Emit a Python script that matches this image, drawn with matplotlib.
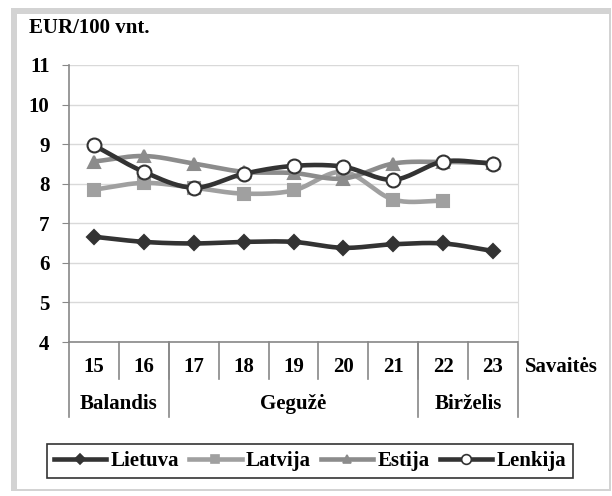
import numpy as np
import matplotlib
matplotlib.use("Agg")
import matplotlib.pyplot as plt
from matplotlib.lines import Line2D
from matplotlib.patches import Rectangle
import matplotlib.transforms as mtransforms

weeks = ["15", "16", "17", "18", "19", "20", "21", "22", "23"]
months = ["Balandis", "Gegužė", "Birželis"]
month_spans = [(0, 2), (2, 7), (7, 9)]

lietuva = [6.66, 6.53, 6.49, 6.53, 6.53, 6.38, 6.47, 6.49, 6.30]
latvija = [7.85, 8.02, 7.90, 7.75, 7.83, 8.30, 7.60, 7.57, np.nan]
estija = [8.56, 8.70, 8.51, 8.30, 8.27, 8.13, 8.51, 8.55, 8.52]
lenkija = [8.97, 8.30, 7.90, 8.25, 8.45, 8.43, 8.10, 8.56, 8.51]

plt.rcParams['font.family'] = ['Liberation Serif', 'DejaVu Serif']
plt.rcParams['font.weight'] = 'bold'

W, H = 612, 496
fig = plt.figure(figsize=(W / 100, H / 100), dpi=100)

# outer frame (thick grey left/top, thin right/bottom)
fig.patches.append(Rectangle((11 / W, 1 - 491 / H), 600 / W, 483 / H,
                             transform=fig.transFigure, facecolor='#d3d3d3',
                             edgecolor='none', zorder=-10))
fig.patches.append(Rectangle((17 / W, 1 - 489 / H), 592 / W, 475 / H,
                             transform=fig.transFigure, facecolor='white',
                             edgecolor='none', zorder=-9))

ax = fig.add_axes([69 / W, 1 - 342 / H, (518 - 69) / W, (342 - 65) / H])
ax.set_xlim(0, 9)
ax.set_ylim(4, 11)
ax.set_yticks(range(4, 12))
ax.set_xticks([])
ax.grid(axis='y', color='#d9d9d9', linewidth=1)
ax.set_axisbelow(True)
ax.spines['top'].set_visible(False)
ax.spines['right'].set_color('#dcdcdc')
ax.spines['left'].set_color('#888888')
ax.spines['bottom'].set_color('#888888')
ax.spines['left'].set_linewidth(1.2)
ax.spines['bottom'].set_linewidth(1.2)
ax.tick_params(axis='y', length=5, color='#888888', labelsize=15, pad=9)
for t in ax.get_yticklabels():
    t.set_fontweight('bold')


def smooth(xs, ys, n=20):
    # Catmull-Rom style smoothing, like Excel smoothed lines
    xs = np.asarray(xs, float)
    ys = np.asarray(ys, float)
    m = ~np.isnan(ys)
    xs, ys = xs[m], ys[m]
    px = np.concatenate([[2 * xs[0] - xs[1]], xs, [2 * xs[-1] - xs[-2]]])
    py = np.concatenate([[2 * ys[0] - ys[1]], ys, [2 * ys[-1] - ys[-2]]])
    ox, oy = [], []
    t = np.linspace(0, 1, n)
    for i in range(1, len(px) - 2):
        p0, p1, p2, p3 = [np.array([px[j], py[j]]) for j in range(i - 1, i + 3)]
        c1 = p1 + (p2 - p0) / 6
        c2 = p2 - (p3 - p1) / 6
        b = ((1 - t) ** 3)[:, None] * p1 + (3 * (1 - t) ** 2 * t)[:, None] * c1 \
            + (3 * (1 - t) * t ** 2)[:, None] * c2 + (t ** 3)[:, None] * p2
        ox.extend(b[:, 0])
        oy.extend(b[:, 1])
    return ox, oy


x = np.arange(9) + 0.5
series = [
    ("Lietuva", lietuva, '#333333', 'D', '#333333', '#333333', 7),
    ("Latvija", latvija, '#a0a0a0', 's', '#a0a0a0', '#a0a0a0', 8),
    ("Estija", estija, '#8c8c8c', '^', '#8c8c8c', '#8c8c8c', 9),
    ("Lenkija", lenkija, '#333333', 'o', 'white', '#333333', 10),
]
handles = []
for i, (name, vals, col, mk, mfc, mec, ms) in enumerate(series):
    sx, sy = smooth(x, vals)
    ax.plot(sx, sy, color=col, linewidth=3.3, zorder=3 + i, solid_capstyle='round')
    ax.plot(x, vals, linestyle='none', marker=mk, markersize=ms,
            markerfacecolor=mfc, markeredgecolor=mec, markeredgewidth=1.5,
            zorder=3 + i, clip_on=False)
    handles.append(Line2D([], [], color=col, linewidth=3.3, marker=mk,
                          markersize=ms * 0.7, markerfacecolor=mfc,
                          markeredgecolor=mec, markeredgewidth=1.2))

# category axis (weeks + months)
trans = mtransforms.blended_transform_factory(ax.transData, ax.transAxes)
px_y = 1 / (342 - 65)
week_sep = -(379 - 342) * px_y
month_sep = -(417 - 342) * px_y
for i, w in enumerate(weeks):
    ax.text(i + 0.5, -(367 - 342) * px_y, w, transform=trans, ha='center',
            va='center', fontsize=15, fontweight='bold')
for b in range(1, 9):
    ax.add_line(Line2D([b, b], [0, week_sep], transform=trans, color='#888888',
                       linewidth=1.2, clip_on=False))
for (a, b), name in zip(month_spans, months):
    ax.text((a + b) / 2, -(404 - 342) * px_y, name, transform=trans,
            ha='center', va='center', fontsize=15, fontweight='bold')
for b in sorted(set([s for sp in month_spans for s in sp])):
    ax.add_line(Line2D([b, b], [0, month_sep], transform=trans, color='#888888',
                       linewidth=1.2, clip_on=False))

fig.text(525 / W, 1 - 367 / H, "Savaitės", ha='left', va='center',
         fontsize=15, fontweight='bold')
fig.text(29 / W, 1 - 28 / H, "EUR/100 vnt.", ha='left', va='center',
         fontsize=15, fontweight='bold')

leg = fig.legend(handles, [s[0] for s in series], loc='center',
                 bbox_to_anchor=(310 / W, 1 - 461 / H), ncol=4, frameon=True,
                 fancybox=False, edgecolor='black',
                 handlelength=2.5, handletextpad=0.2, columnspacing=0.5,
                 borderpad=0.35, prop={'weight': 'bold', 'size': 15})
leg.get_frame().set_linewidth(1.2)

fig.savefig("out.png", dpi=100)
